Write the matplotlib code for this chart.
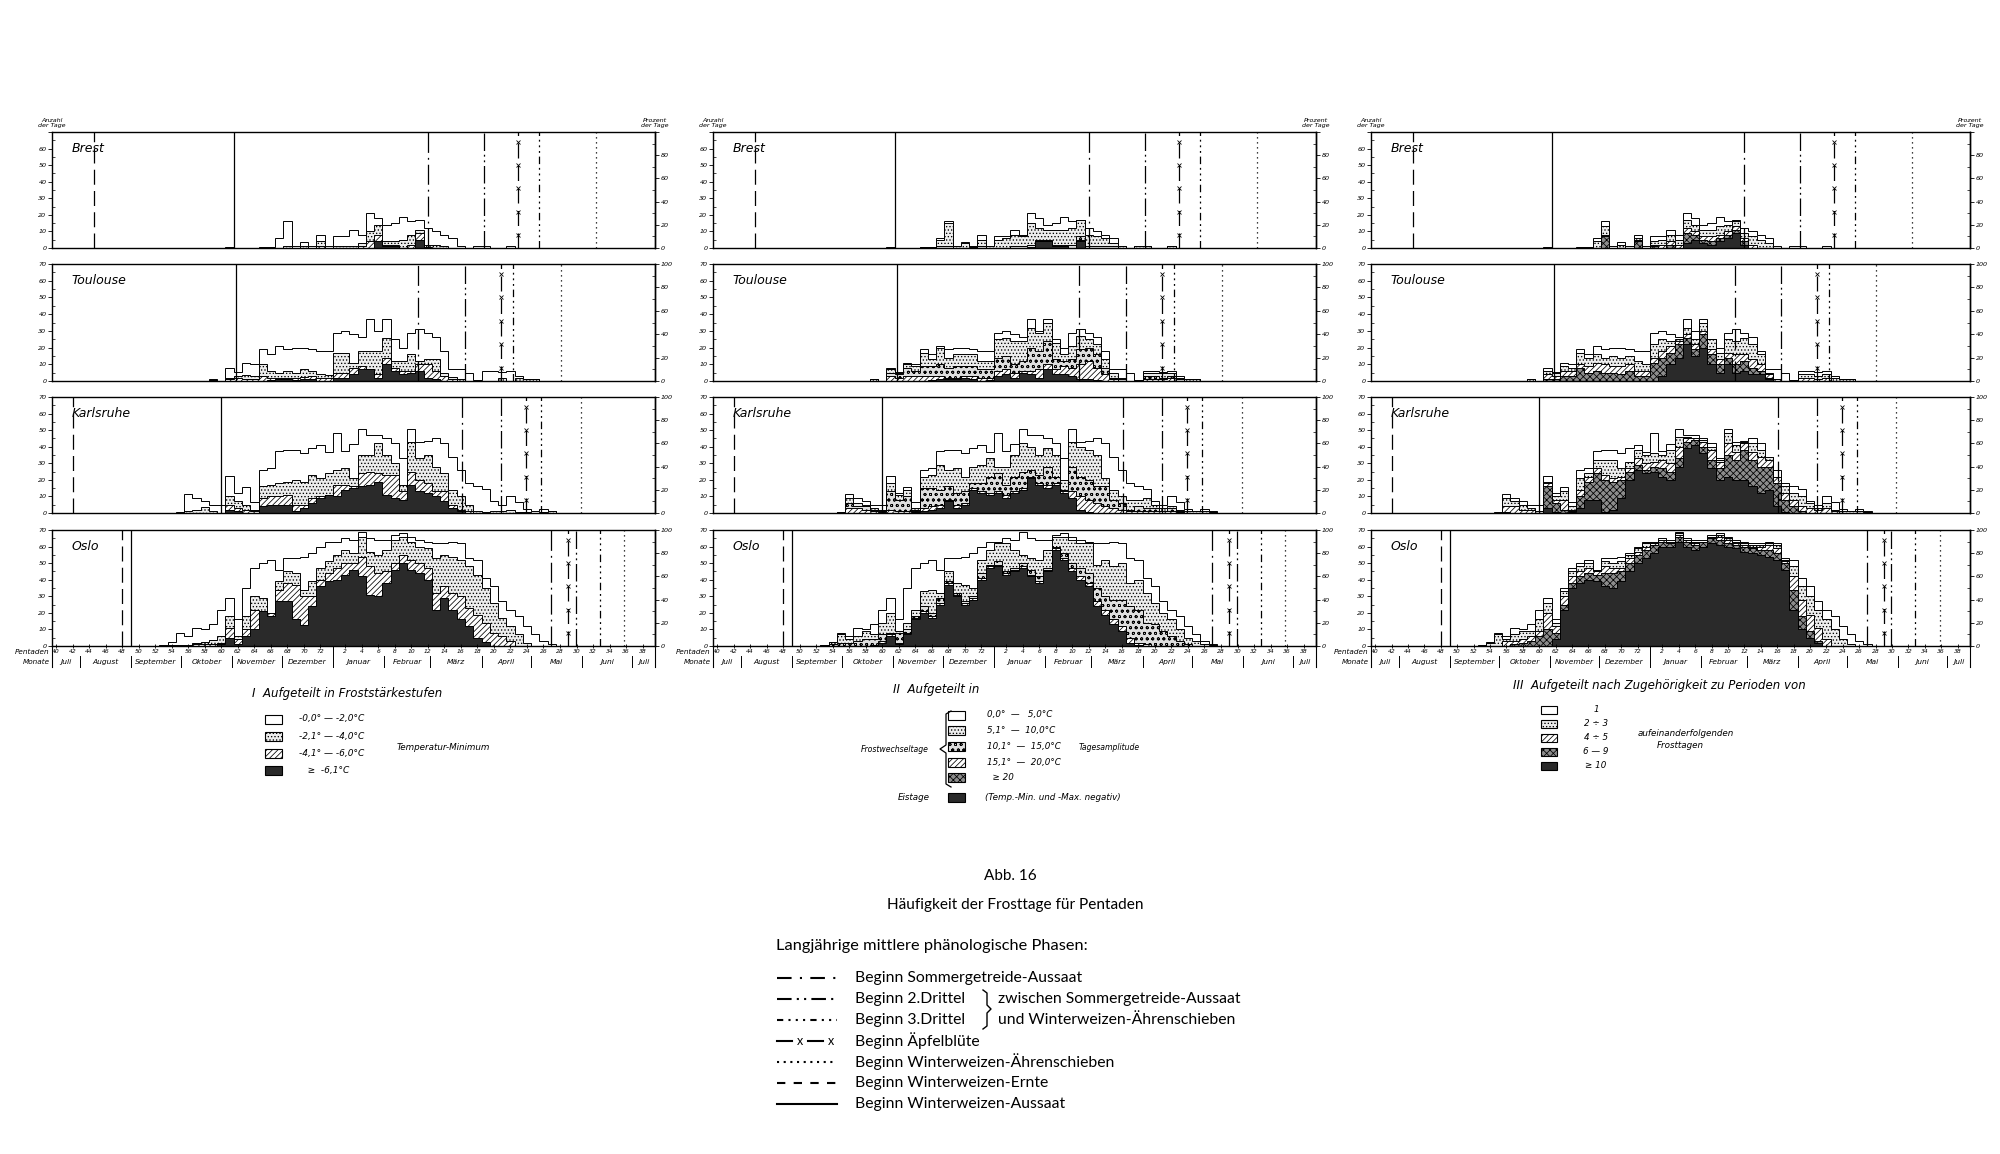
import numpy as np
import matplotlib.pyplot as plt
from matplotlib.patches import Rectangle
from matplotlib.transforms import blended_transform_factory

plt.rcParams['font.family'] = ['DejaVu Sans']
plt.rcParams['hatch.linewidth'] = 0.55

# pentads that carry data: pentad 52 (mid-September) .. pentad 27 (mid-May)
pentads = list(range(52, 74)) + list(range(1, 28))
stations = ['Brest', 'Toulouse', 'Karlsruhe', 'Oslo']

# number of frost days per pentad (all stages together)
brest_total = [0, 0, 0, 0, 0, 0, 0, 0, 0, 0.5,
               0, 0, 0, 0.5, 0.5, 6, 16, 1, 3.5, 1,
               8, 1, 7, 7, 11, 8, 21, 18, 14, 15,
               19, 16, 17, 12, 10, 8, 6, 1, 0, 1,
               1.5, 0, 0, 1.5, 0, 0, 0, 0, 0]
toulouse_total = [0, 0, 0, 0, 0, 0, 0, 1, 0, 8,
                  5.5, 11, 10, 19, 16, 21, 19, 20, 19.5, 19,
                  18, 18, 29, 30, 28, 26.5, 37, 30, 37, 25,
                  20, 29, 31, 29, 26.5, 18, 7, 7, 4.5, 0.5,
                  6, 6, 5.5, 6, 3, 1, 1, 0, 0]
karlsruhe_total = [0, 0, 0, 0.5, 11.5, 9, 7, 5, 5, 22.5,
                   12, 15.5, 6.5, 26, 27, 37.5, 38, 38, 36, 39,
                   41, 37, 48, 37.5, 41.5, 50.5, 47, 47, 45, 42,
                   33, 50.5, 43, 43.5, 45, 42, 34, 26, 18, 16,
                   14.5, 7, 5, 10, 6.5, 2.5, 1.5, 2.5, 1]
oslo_total = [0.3, 0.6, 2.5, 8, 6, 11, 10, 13.5, 22, 29,
              16, 35, 47, 50, 52, 46, 53, 53, 54, 56,
              60, 63, 63, 65, 64, 69, 65, 64, 64, 67,
              68, 66, 64, 63, 62, 62, 63, 62, 53, 52,
              41, 36, 27, 22, 18, 12, 7, 3, 1]

# I: days with minimum <= -2.1, <= -4.1, <= -6.1 degC
brest_I_2 = [0, 0, 0, 0, 0, 0, 0, 0, 0, 0,
             0, 0, 0, 0, 0, 0, 1.5, 0, 1, 0,
             4, 0, 1, 1, 1.5, 3, 10, 14, 4, 4,
             5, 8, 11, 2, 2, 1, 0, 0, 0, 0,
             0, 0, 0, 0, 0, 0, 0, 0, 0]
brest_I_4 = [0, 0, 0, 0, 0, 0, 0, 0, 0, 0,
             0, 0, 0, 0, 0, 0, 0, 0, 0, 0,
             1.5, 0, 0, 0, 0, 1, 4, 8, 2, 2,
             0, 2, 9, 0.5, 0, 0, 0, 0, 0, 0,
             0, 0, 0, 0, 0, 0, 0, 0, 0]
brest_I_6 = [0, 0, 0, 0, 0, 0, 0, 0, 0, 0,
             0, 0, 0, 0, 0, 0, 0, 0, 0, 0,
             0, 0, 0, 0, 0, 0, 0, 4.5, 1.5, 1.5,
             0, 0, 5, 0, 0, 0, 0, 0, 0, 0,
             0, 0, 0, 0, 0, 0, 0, 0, 0]
toulouse_I_2 = [0, 0, 0, 0, 0, 0, 0, 0.5, 0, 2,
                3, 3.5, 3, 10, 6, 5, 6, 5, 7, 6,
                4, 3.5, 17, 17, 11, 18, 18, 18, 26, 12,
                12, 16, 12, 13, 13, 5, 2.5, 1, 0, 0,
                0, 0, 2, 0, 1.5, 1, 1, 0, 0]
toulouse_I_4 = [0, 0, 0, 0, 0, 0, 0, 0, 0, 1,
                1.5, 1, 1, 3, 2, 1.5, 2, 2, 2.5, 3,
                2, 2, 5, 5, 8, 9, 7, 4, 14, 8,
                6, 6, 10, 10, 6, 3, 1, 0, 0, 0,
                0, 0, 0, 0, 0, 0, 0, 0, 0]
toulouse_I_6 = [0, 0, 0, 0, 0, 0, 0, 0, 0, 0,
                0, 0, 0, 0, 0.5, 1, 1, 0.5, 1, 1,
                0, 0, 1.5, 2, 4, 7, 7, 2, 10, 6,
                4, 5, 6, 2, 1, 0, 0, 0, 0, 0,
                0, 0, 0, 0, 0, 0, 0, 0, 0]
karlsruhe_I_2 = [0, 0, 0, 0.3, 1, 2, 3.5, 1, 0, 10,
                 7, 5, 2, 16, 17, 18, 19, 20, 19, 23,
                 21, 24, 26, 27, 21, 35, 35, 42, 35, 30,
                 17, 43, 33, 35, 28, 24, 14, 10, 5, 1,
                 0.5, 1, 1, 2, 0.5, 0.5, 0, 0.5, 1]
karlsruhe_I_4 = [0, 0, 0, 0, 0, 0, 0, 0, 0, 5,
                 3, 2, 1, 9, 10, 10, 11, 5, 5, 9,
                 10, 11, 17, 17, 16, 24, 25, 24, 23, 23,
                 13, 25, 20, 18, 13, 13, 5, 2, 1, 0,
                 0, 0, 0, 0, 0, 0, 0, 0, 0]
karlsruhe_I_6 = [0, 0, 0, 0, 0, 0, 0, 0, 0, 2,
                 1, 0, 0, 4, 5, 5, 5, 1, 3, 6,
                 9, 11, 10, 14, 15, 16, 17, 19, 11, 9,
                 8, 17, 13, 12, 10, 7, 3, 1, 0, 0,
                 0, 0, 0, 0, 0, 0, 0, 0, 0]
oslo_I_2 = [0, 0, 0.5, 0.5, 0.5, 2, 2.5, 3.5, 6, 18,
            6, 18, 30, 29, 20, 39, 45, 44, 34, 39,
            47, 51, 55, 58, 56, 66, 57, 55, 58, 64,
            66, 63, 60, 59, 53, 55, 54, 52, 48, 43,
            35, 26, 17, 12, 7, 2, 0, 0, 0]
oslo_I_4 = [0, 0, 0, 0, 0, 1, 1, 1.5, 2, 11,
            4, 10, 22, 21, 20, 34, 38, 37, 30, 30,
            40, 44, 47, 50, 50, 54, 48, 44, 45, 50,
            55, 52, 50, 47, 32, 36, 32, 30, 23, 19,
            14, 8, 6, 3, 0, 0, 0, 0, 0]
oslo_I_6 = [0, 0, 0, 0, 0, 0, 0, 0, 1, 5,
            1, 6, 10, 21, 18, 27, 27, 16, 12.5, 24,
            36, 39, 40, 43, 46, 42, 31, 30, 38, 46,
            50, 46, 44, 40, 22, 29, 22, 16, 12, 5,
            2.5, 0, 0, 0, 0, 0, 0, 0, 0]

# II: frost-change days with daily amplitude >= 5.1, >= 10.1, >= 15.1 degC, and ice days
brest_II_5 = [0, 0, 0, 0, 0, 0, 0, 0, 0, 0,
              0, 0, 0, 0.5, 0.5, 5, 15, 1, 3, 0.5,
              5, 1, 5, 6, 8, 7, 15, 12, 11, 11,
              11, 12, 17, 8, 7, 6, 3, 1, 0, 1,
              1, 0, 0, 1, 0, 0, 0, 0, 0]
brest_II_10 = [0, 0, 0, 0, 0, 0, 0, 0, 0, 0,
               0, 0, 0, 0, 0, 1, 1.5, 0, 0, 0,
               1.5, 0, 0, 0, 1, 1, 2, 5, 5, 2,
               2, 2, 7, 1, 1, 1, 1, 0, 0, 0,
               0, 0, 0, 0, 0, 0, 0, 0, 0]
brest_II_15 = [0, 0, 0, 0, 0, 0, 0, 0, 0, 0,
               0, 0, 0, 0, 0, 0, 0, 0, 0, 0,
               0, 0, 0, 0, 0, 0, 0.5, 4.5, 4.5, 1.5,
               1.5, 0, 5, 0, 0, 0, 0, 0, 0, 0,
               0, 0, 0, 0, 0, 0, 0, 0, 0]
brest_II_ice = [0, 0, 0, 0, 0, 0, 0, 0, 0, 0,
                0, 0, 0, 0, 0, 0, 0, 0, 0, 0,
                0, 0, 0, 0, 0, 0, 0, 4, 4, 1,
                1.5, 0, 4.5, 0, 0, 0, 0, 0, 0, 0,
                0, 0, 0, 0, 0, 0, 0, 0, 0]
toulouse_II_5 = [0, 0, 0, 0, 0, 0, 0, 1, 0, 7,
                 5, 10, 9, 17, 13, 20, 14, 16, 16, 16,
                 12, 12, 25, 26, 24, 24, 32, 29, 35, 23,
                 16, 21, 27, 25, 22, 13, 5, 2, 0, 0.5,
                 5, 5, 5, 5, 2, 1, 1, 0, 0]
toulouse_II_10 = [0, 0, 0, 0, 0, 0, 0, 0, 0, 5,
                  4, 8, 6, 9, 9, 10, 8, 9, 9, 9,
                  7, 7, 14, 15, 10, 12, 20, 18, 24, 13,
                  12, 13, 19, 20, 16, 8, 2, 1, 0, 0,
                  3, 3, 2, 3, 1, 0, 0, 0, 0]
toulouse_II_15 = [0, 0, 0, 0, 0, 0, 0, 0, 0, 3,
                  2, 3, 3, 3, 3, 3, 2, 2, 3, 3,
                  2, 2, 6, 7, 5, 6, 6, 7, 10, 7,
                  9, 8, 10, 12, 8, 4, 1, 0, 0, 0,
                  1, 1, 1, 2, 0, 0, 0, 0, 0]
toulouse_II_ice = [0, 0, 0, 0, 0, 0, 0, 0, 0, 0,
                   0, 0, 0, 0, 0.5, 1, 1, 1, 1.5, 1,
                   0, 0.5, 3, 4, 2, 5, 4, 2, 7, 4,
                   4, 3, 1, 1, 0.5, 0, 0, 0, 0, 0,
                   0, 0, 0, 0, 0, 0, 0, 0, 0]
karlsruhe_II_5 = [0, 0, 0, 0.5, 9, 6, 5, 3, 2, 18,
                  11, 14, 3, 22, 23, 29, 26, 27, 22, 28,
                  29, 33, 28, 28, 35, 42, 40, 35, 39, 35,
                  20, 43, 40, 38, 35, 21, 14, 10, 8, 8,
                  9, 5, 3, 4, 2, 1, 1, 1, 0.5]
karlsruhe_II_10 = [0, 0, 0, 1, 6, 4, 4, 2, 1, 13,
                   8, 10, 2, 15, 15, 14, 16, 12, 13, 18,
                   18, 22, 24, 17, 22, 25, 26, 23, 28, 22,
                   14, 28, 22, 20, 16, 16, 8, 6, 2, 4,
                   3, 3, 1, 3, 1, 0, 0, 0, 0]
karlsruhe_II_15 = [0, 0, 0, 1, 3, 3, 2, 1, 0.5, 2,
                   1, 1, 1, 3, 4, 5, 8, 5, 6, 15,
                   13, 12, 13, 11, 13, 15, 22, 18, 17, 18,
                   13, 13, 10, 8, 6, 4, 3, 2, 1, 1,
                   1, 1, 1, 1, 0.5, 0, 0, 0, 0]
karlsruhe_II_ice = [0, 0, 0, 0, 0, 0, 0, 0, 0, 0,
                    0, 0, 0.5, 1, 2, 3, 7, 3, 5, 14,
                    12, 11, 12, 9, 12, 14, 21, 17, 15, 17,
                    12, 9, 2, 0.5, 0, 0, 0, 0, 0, 0,
                    0, 0, 0, 0, 0, 0, 0, 0, 0]
oslo_II_5 = [0, 1, 2.5, 7, 4, 6, 9, 7, 14, 20,
             9, 14, 22, 33, 34, 32, 45, 38, 37, 35,
             52, 58, 62, 62, 58, 55, 53, 52, 58, 66,
             66, 64, 62, 62, 49, 52, 48, 50, 38, 40,
             32, 26, 20, 16, 10, 5, 3, 1, 0.5]
oslo_II_10 = [0, 0, 1, 2, 2, 3, 4, 4, 7, 8,
              8, 10, 18, 24, 20, 29, 39, 32, 27, 30,
              44, 49, 51, 45, 47, 50, 46, 42, 47, 60,
              56, 50, 47, 44, 35, 30, 28, 28, 24, 22,
              14, 13, 9, 6, 3, 1, 0, 0, 0]
oslo_II_15 = [0, 0, 0, 0, 0, 0, 0, 0.5, 3, 7,
              2, 8, 17, 21, 18, 26, 38, 31, 26, 29,
              41, 48, 49, 44, 46, 48, 43, 39, 46, 59,
              53, 47, 42, 38, 27, 22, 16, 12, 5, 2,
              1, 0, 0, 0, 0, 0, 0, 0, 0]
oslo_II_ice = [0, 0, 0, 0, 0, 0, 0, 0.5, 2, 6,
               1, 7, 16, 20, 17, 25, 37, 30, 25, 28,
               40, 47, 48, 43, 45, 47, 42, 38, 45, 58,
               52, 45, 40, 36, 24, 19, 13, 9, 2, 0.5,
               0, 0, 0, 0, 0, 0, 0, 0, 0]

# III: frost days belonging to periods of >= 2, >= 4, >= 6, >= 10 consecutive frost days
brest_III_2 = [0, 0, 0, 0, 0, 0, 0, 0, 0, 0,
               0, 0, 0, 0, 0, 4, 13, 0, 2, 0,
               6, 0, 4, 5, 8, 5, 17, 14, 11, 11,
               13, 14, 16, 9, 7, 5, 3, 0, 0, 0,
               0, 0, 0, 0, 0, 0, 0, 0, 0]
brest_III_4 = [0, 0, 0, 0, 0, 0, 0, 0, 0, 0,
               0, 0, 0, 0, 0, 0, 8, 0, 0, 0,
               5, 0, 2, 2, 4, 2, 12, 10, 7, 7,
               8, 10, 13, 6, 2, 0, 0, 0, 0, 0,
               0, 0, 0, 0, 0, 0, 0, 0, 0]
brest_III_6 = [0, 0, 0, 0, 0, 0, 0, 0, 0, 0,
               0, 0, 0, 0, 0, 0, 7, 0, 0, 0,
               4, 0, 1, 0, 2, 0, 9, 8, 5, 4,
               6, 8, 11, 4, 0, 0, 0, 0, 0, 0,
               0, 0, 0, 0, 0, 0, 0, 0, 0]
brest_III_10 = [0, 0, 0, 0, 0, 0, 0, 0, 0, 0,
                0, 0, 0, 0, 0, 0, 0, 0, 0, 0,
                0, 0, 0, 0, 0, 0, 3, 5, 3, 2,
                4, 6, 9, 2, 0, 0, 0, 0, 0, 0,
                0, 0, 0, 0, 0, 0, 0, 0, 0]
toulouse_III_2 = [0, 0, 0, 0, 0, 0, 0, 1, 0, 6,
                  5, 9, 8, 17, 14, 16, 14, 15, 14, 15,
                  12, 10, 22, 25, 24, 25, 32, 25, 35, 25,
                  17, 25, 24, 26, 22, 16, 5, 1, 0, 0,
                  4, 4, 3, 4, 2, 1, 1, 0, 0]
toulouse_III_4 = [0, 0, 0, 0, 0, 0, 0, 0, 0, 4,
                  3, 6, 6, 10, 9, 11, 10, 9, 9, 10,
                  6, 6, 14, 18, 21, 24, 28, 22, 30, 19,
                  13, 17, 16, 16, 13, 10, 4, 1, 0, 0,
                  2, 2, 1, 2, 0, 0, 0, 0, 0]
toulouse_III_6 = [0, 0, 0, 0, 0, 0, 0, 0, 0, 1,
                  1, 3, 3, 8, 5, 6, 5, 5, 4, 6,
                  3, 3, 11, 14, 17, 22, 26, 19, 28, 16,
                  10, 14, 10, 12, 8, 6, 2, 0, 0, 0,
                  0, 0, 0, 0, 0, 0, 0, 0, 0]
toulouse_III_10 = [0, 0, 0, 0, 0, 0, 0, 0, 0, 0,
                   0, 0, 0, 0, 0, 0, 0, 0, 0, 0,
                   0, 0, 0, 3, 10, 14, 22, 15, 20, 10,
                   5, 10, 5, 6, 4, 4, 1, 0, 0, 0,
                   0, 0, 0, 0, 0, 0, 0, 0, 0]
karlsruhe_III_2 = [0, 0, 0, 0.3, 9, 7, 5, 3, 1, 19,
                   10, 13, 4, 21, 24, 32, 32, 32, 27, 31,
                   38, 35, 36, 35, 38, 46, 46, 45, 44, 40,
                   32, 48, 41, 43, 42, 38, 34, 22, 16, 12,
                   10, 6, 3, 6, 2, 1, 1, 1, 0.5]
karlsruhe_III_4 = [0, 0, 0, 0, 4, 4, 2, 2, 0, 18,
                   8, 8, 2, 14, 22, 27, 23, 21, 22, 27,
                   33, 30, 31, 32, 30, 40, 45, 46, 43, 38,
                   31, 42, 37, 42, 37, 34, 32, 23, 12, 8,
                   4, 3, 2, 3, 1, 0, 0, 0, 0]
karlsruhe_III_6 = [0, 0, 0, 0, 0.5, 0, 0, 0, 0, 16,
                   6, 2, 1, 10, 19, 24, 20, 19, 20, 25,
                   29, 26, 28, 27, 25, 33, 43, 44, 40, 32,
                   27, 35, 32, 38, 32, 28, 28, 18, 8, 4,
                   1, 0, 0, 0, 0, 0, 0, 0, 0]
karlsruhe_III_10 = [0, 0, 0, 0, 0, 0, 0, 0, 0, 3,
                    0.5, 0, 0.5, 3, 8, 8, 0.5, 2, 9, 20,
                    26, 24, 25, 22, 20, 28, 39, 41, 36, 27,
                    20, 22, 20, 20, 16, 12, 14, 4, 0.5, 0,
                    0, 0, 0, 0, 0, 0, 0, 0, 0]
oslo_III_2 = [0, 0, 2, 7, 4, 7, 9, 9, 16, 26,
              14, 33, 45, 48, 50, 45, 51, 50, 51, 55,
              59, 62, 62, 64, 63, 68, 64, 63, 63, 66,
              67, 65, 63, 62, 61, 61, 62, 61, 52, 48,
              36, 30, 22, 16, 10, 4, 1, 0, 0]
oslo_III_4 = [0, 0, 0, 0, 3, 3, 4, 6, 9, 20,
              12, 30, 42, 45, 47, 45, 48, 47, 47, 53,
              57, 60, 62, 64, 63, 67, 64, 62, 63, 66,
              66, 64, 62, 61, 60, 60, 61, 59, 51, 42,
              28, 19, 11, 4, 0, 0, 0, 0, 0]
oslo_III_6 = [0, 0, 0, 0, 0, 1, 2, 3, 6, 10,
              8, 25, 38, 42, 44, 43, 44, 44, 45, 50,
              55, 58, 61, 63, 62, 66, 63, 61, 63, 65,
              64, 62, 61, 60, 59, 58, 58, 56, 50, 34,
              18, 9, 3, 0, 0, 0, 0, 0, 0]
oslo_III_10 = [0, 0, 0, 0, 0, 0, 0, 0, 0, 0,
               4, 22, 35, 38, 40, 39, 36, 35, 39, 45,
               50, 53, 56, 60, 60, 63, 60, 58, 60, 62,
               61, 60, 59, 57, 56, 55, 54, 52, 46, 22,
               10, 5, 2, 0, 0, 0, 0, 0, 0]

# long-term mean phenological phases (pentad of the year, fractional), Brest/Toulouse/Karlsruhe/Oslo
phase_sommer = [12.0, 10.8, 16.1, 26.9]
phase_drittel2 = [18.8, 16.5, 20.9, 29.9]
phase_drittel3 = [25.5, 22.3, 25.7, 32.8]
phase_apfel = [22.95, 20.9, 23.9, 29.0]
phase_aehren = [32.4, 28.1, 30.5, 35.8]
phase_ernte = [44.6, np.nan, 42.1, 48.0]
phase_aussaat = [61.5, 61.8, 60.0, 49.1]

month_names = ['Juli', 'August', 'September', 'Oktober', 'November', 'Dezember',
               'Januar', 'Februar', 'März', 'April', 'Mai', 'Juni', 'Juli']
month_first_day = [182, 213, 244, 274, 305, 335, 366, 397, 425, 456, 486, 517, 547]


def xpos(p):
    # axis runs from pentad 40 (mid-July) over the new year to pentad 39
    return p - 40 if p >= 39.5 else p + 33


def dpos(day):
    return (day - 1) / 5 - 39.5


W, H = 2000, 1154
fig = plt.figure(figsize=(W / 100, H / 100), dpi=100)
fig.patch.set_facecolor('white')

col_x = [(52, 655), (713, 1316), (1371, 1970)]
row_y = [(132, 248), (264, 381), (397, 513), (530, 646)]

xs = np.array([xpos(p) for p in pentads], float)
edges = np.append(xs - 0.5, xs[-1] + 0.5)

DARK = '#2a2a2a'
STIPPLE = '#ededed'
styles = [
    [('white', ''), (STIPPLE, '.....'), ('white', '//////'), (DARK, '')],
    [('white', ''), (STIPPLE, '.....'), ('#dedede', 'ooo'), ('white', '//////'), (DARK, '')],
    [('white', ''), (STIPPLE, '.....'), ('white', '//////'), ('#8c8c8c', 'xxxxx'), (DARK, '')],
]
totals = [brest_total, toulouse_total, karlsruhe_total, oslo_total]
layers = [
    [[brest_I_2, brest_I_4, brest_I_6], [toulouse_I_2, toulouse_I_4, toulouse_I_6],
     [karlsruhe_I_2, karlsruhe_I_4, karlsruhe_I_6], [oslo_I_2, oslo_I_4, oslo_I_6]],
    [[brest_II_5, brest_II_10, brest_II_15, brest_II_ice],
     [toulouse_II_5, toulouse_II_10, toulouse_II_15, toulouse_II_ice],
     [karlsruhe_II_5, karlsruhe_II_10, karlsruhe_II_15, karlsruhe_II_ice],
     [oslo_II_5, oslo_II_10, oslo_II_15, oslo_II_ice]],
    [[brest_III_2, brest_III_4, brest_III_6, brest_III_10],
     [toulouse_III_2, toulouse_III_4, toulouse_III_6, toulouse_III_10],
     [karlsruhe_III_2, karlsruhe_III_4, karlsruhe_III_6, karlsruhe_III_10],
     [oslo_III_2, oslo_III_4, oslo_III_6, oslo_III_10]],
]

phase_styles = [
    (phase_sommer, (0, (16, 4, 1.5, 4))),
    (phase_drittel2, (0, (14, 3, 1.5, 3, 1.5, 3))),
    (phase_drittel3, (0, (6, 3, 1.5, 3, 1.5, 3, 1.5, 3))),
    (phase_apfel, (0, (12, 6))),
    (phase_aehren, (0, (1, 3))),
    (phase_ernte, (0, (12, 5))),
    (phase_aussaat, '-'),
]

tiny = dict(fontsize=4.6, fontstyle='italic')

for c, (x0, x1) in enumerate(col_x):
    for r, (y0, y1) in enumerate(row_y):
        ax = fig.add_axes([x0 / W, 1 - y1 / H, (x1 - x0) / W, (y1 - y0) / H])
        ax.set_xlim(-0.5, 72.5)
        ax.set_ylim(0, 70)
        for s in ax.spines.values():
            s.set_linewidth(1.0)

        series = [totals[r]] + layers[c][r]
        upper = None
        for vals, (fc, hatch) in zip(series, styles[c]):
            v = np.asarray(vals, float)
            if upper is not None:
                v = np.minimum(v, upper)
            ax.stairs(v, edges, baseline=0, fill=True, facecolor=fc,
                      edgecolor='black', hatch=hatch, linewidth=0.7)
            upper = v

        for values, ls in phase_styles:
            p = values[r]
            if np.isnan(p):
                continue
            ax.axvline(xpos(p), color='black', lw=0.9, linestyle=ls, zorder=5)
        ax.plot([xpos(phase_apfel[r])] * 5, [8, 22, 36, 50, 64], ls='none',
                marker='x', ms=2.2, mew=0.6, color='black', zorder=6)

        ax.text(0.032, 0.86, stations[r], transform=ax.transAxes, fontsize=9,
                fontstyle='italic', va='center')

        ylabels = [str(v) for v in range(0, 80, 10)]
        plabels = [str(v) for v in range(0, 120, 20)]
        if r == 0:
            ylabels[-1] = ''
            plabels[-1] = ''
        ax.set_yticks(range(0, 80, 10), labels=ylabels, **tiny)
        ax.set_yticks(range(5, 70, 10), minor=True)
        ax.tick_params(axis='y', which='major', direction='out', length=3, width=0.6, pad=1)
        ax.tick_params(axis='y', which='minor', direction='in', length=2, width=0.5)
        sec = ax.secondary_yaxis('right', functions=(lambda d: d / 70 * 100,
                                                     lambda q: q / 100 * 70))
        sec.set_yticks(range(0, 120, 20), labels=plabels, **tiny)
        sec.set_yticks(range(10, 100, 20), minor=True)
        sec.tick_params(axis='y', which='major', direction='out', length=3, width=0.6, pad=1)
        sec.tick_params(axis='y', which='minor', direction='in', length=2, width=0.5)
        sec.spines['right'].set_linewidth(1.0)

        if r < 3:
            ax.set_xticks([])
        else:
            tick_p = list(range(40, 74, 2)) + list(range(2, 40, 2))
            ax.set_xticks([xpos(p) for p in tick_p], labels=[str(p) for p in tick_p],
                          fontsize=4.3, fontstyle='italic')
            ax.tick_params(axis='x', direction='inout', length=3, width=0.6, pad=1)
            tr = blended_transform_factory(ax.transData, ax.transAxes)
            starts = [dpos(d) for d in month_first_day] + [72.5]
            for m, name in enumerate(month_names):
                a, b = max(starts[m], -0.5), min(starts[m + 1], 72.5)
                ax.text((a + b) / 2, -0.135, name, transform=tr, ha='center',
                        va='center', fontsize=5.4, fontstyle='italic')
                if m > 0:
                    top = 0 if name == 'Januar' else -0.09
                    ax.plot([starts[m]] * 2, [top, -0.185], transform=tr,
                            color='black', lw=0.7, clip_on=False)
            for xe in (-0.5, 72.5):
                ax.plot([xe, xe], [0, -0.185], transform=tr, color='black',
                        lw=0.8, clip_on=False)
            ax.text(-0.004, -0.055, 'Pentaden', transform=ax.transAxes, ha='right',
                    va='center', fontsize=5.2, fontstyle='italic')
            ax.text(-0.004, -0.135, 'Monate', transform=ax.transAxes, ha='right',
                    va='center', fontsize=5.2, fontstyle='italic')

# overlay in pixel coordinates for captions and legends
ov = fig.add_axes([0, 0, 1, 1])
ov.set_xlim(0, W)
ov.set_ylim(H, 0)
ov.axis('off')

for x0, x1 in col_x:
    ov.text(x0, 123, 'Anzahl\nder Tage', ha='center', va='center', linespacing=0.85, **tiny)
    ov.text(x1, 123, 'Prozent\nder Tage', ha='center', va='center', linespacing=0.85, **tiny)

it = dict(fontstyle='italic', va='center')


def box(x, yc, fc, hatch, w=17, h=9):
    ov.add_patch(Rectangle((x, yc - h / 2), w, h, facecolor=fc, edgecolor='black',
                           hatch=hatch, lw=0.8))


# legend I
ov.text(252, 693, 'I  Aufgeteilt in Froststärkestufen', fontsize=8.5, **it)
leg_I = ['-0,0° — -2,0°C', '-2,1° — -4,0°C', '-4,1° — -6,0°C', '   ≥  -6,1°C']
for k, (lab, (fc, hatch)) in enumerate(zip(leg_I, styles[0])):
    yc = 719 + k * 17.3
    box(265, yc, fc, hatch)
    ov.text(299, yc, lab, fontsize=6.5, **it)
ov.text(397, 747, 'Temperatur-Minimum', fontsize=6.3, **it)

# legend II
ov.text(893, 690, 'II  Aufgeteilt in', fontsize=8.5, **it)
leg_II = ['0,0°  —   5,0°C', '5,1°  —  10,0°C', '10,1°  —  15,0°C', '15,1°  —  20,0°C', '  ≥ 20']
leg_II_style = [('white', ''), (STIPPLE, '.....'), ('#dedede', 'ooo'), ('white', '//////'),
                ('#8c8c8c', 'xxxxx')]
for k, (lab, (fc, hatch)) in enumerate(zip(leg_II, leg_II_style)):
    yc = 715 + k * 15.7
    box(948, yc, fc, hatch)
    ov.text(987, yc, lab, fontsize=6.3, **it)
box(948, 797, DARK, '')
ov.text(985, 797, '(Temp.-Min. und -Max. negativ)', fontsize=6.3, **it)
ov.text(861, 749, 'Frostwechseltage', fontsize=5.6, **it)
ov.text(1079, 747, 'Tagesamplitude', fontsize=5.6, **it)
ov.text(898, 797, 'Eistage', fontsize=6.3, **it)
ov.plot([951, 946, 946, 940, 946, 946, 951], [711, 714, 745, 749, 753, 784, 787],
        color='black', lw=0.9)

# legend III
ov.text(1513, 686, 'III  Aufgeteilt nach Zugehörigkeit zu Perioden von', fontsize=8.5, **it)
leg_III = ['1', '2 ÷ 3', '4 ÷ 5', '6 — 9', '≥ 10']
for k, (lab, (fc, hatch)) in enumerate(zip(leg_III, styles[2])):
    yc = 710 + k * 14
    box(1541, yc, fc, hatch, w=16, h=8)
    ov.text(1596, yc, lab, fontsize=6.3, ha='center', fontstyle='italic', va='center')
ov.text(1686, 733, 'aufeinanderfolgenden', fontsize=6.3, ha='center', fontstyle='italic',
        va='center')
ov.text(1680, 745, 'Frosttagen', fontsize=6.3, ha='center', fontstyle='italic', va='center')

# caption and phase legend
cap = dict(family='Lato', va='center')
ov.text(1010, 876, 'Abb. 16', fontsize=11, ha='center', **cap)
ov.text(1015, 905, 'Häufigkeit der Frosttage für Pentaden', fontsize=11.1, ha='center', **cap)
ov.text(776, 946, 'Langjährige mittlere phänologische Phasen:', fontsize=11.8, **cap)
rows = [978, 999, 1020, 1041, 1062, 1083, 1104]
texts = ['Beginn Sommergetreide-Aussaat', 'Beginn 2.Drittel', 'Beginn 3.Drittel',
         'Beginn Äpfelblüte', 'Beginn Winterweizen-Ährenschieben',
         'Beginn Winterweizen-Ernte', 'Beginn Winterweizen-Aussaat']
leg_ls = [(0, (7, 4, 1, 4)), (0, (7, 2.5, 1, 2.5, 1, 2.5)),
          (0, (3, 2.5, 1, 2.5, 1, 2.5, 1, 2.5)), None, (0, (1, 2.2)), (0, (4, 4)), '-']
for yr, txt, ls in zip(rows, texts, leg_ls):
    if ls is None:
        ov.plot([777, 792], [yr, yr], color='black', lw=1.5)
        ov.text(800, yr, 'x', fontsize=9, ha='center', **cap)
        ov.plot([808, 823], [yr, yr], color='black', lw=1.5)
        ov.text(831, yr, 'x', fontsize=9, ha='center', **cap)
    else:
        ov.plot([777, 837], [yr, yr], color='black', lw=1.5, linestyle=ls)
    ov.text(855, yr, txt, fontsize=11.3, **cap)
ov.text(998, 999, 'zwischen Sommergetreide-Aussaat', fontsize=11.3, **cap)
ov.text(998, 1020, 'und Winterweizen-Ährenschieben', fontsize=11.3, **cap)
ov.plot([983, 987, 987, 991, 987, 987, 983], [990, 993, 1005, 1009, 1013, 1026, 1029],
        color='black', lw=1.0)

fig.savefig('out.png', dpi=100, facecolor='white')
